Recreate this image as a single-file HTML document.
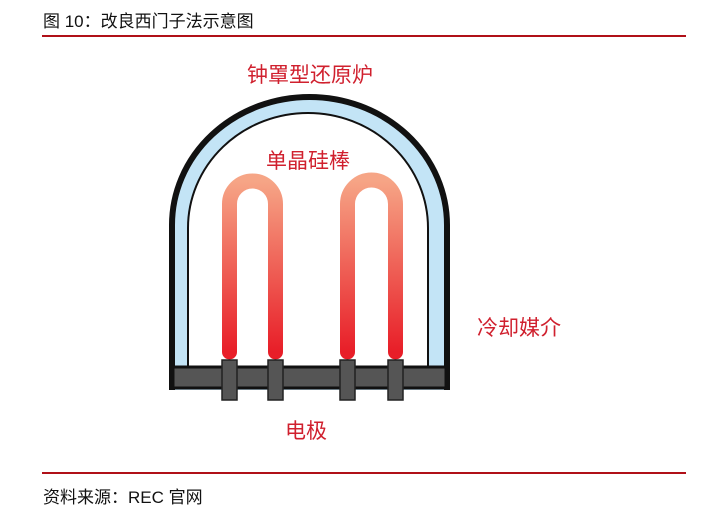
<!DOCTYPE html>
<html><head><meta charset="utf-8"><style>
body{margin:0;background:#fff;width:715px;height:517px;overflow:hidden;position:relative;font-family:"Liberation Sans","Noto Sans CJK SC",sans-serif}
.t{position:absolute;white-space:nowrap}
.r{color:#d0202e;font-size:21px}
</style></head><body>
<div class="t" style="left:43px;top:7px;font-size:17px;color:#111">图 10：改良西门子法示意图</div>
<div style="position:absolute;left:42px;top:35px;width:644px;height:2px;background:#b01018"></div>
<div style="position:absolute;left:42px;top:472px;width:644px;height:2px;background:#b01018"></div>
<div class="t" style="left:43px;top:483px;font-size:17px;color:#111">资料来源：REC 官网</div>
<svg width="715" height="517" style="position:absolute;left:0;top:0">
<defs><linearGradient id="g" x1="0" y1="0" x2="0" y2="1"><stop offset="0" stop-color="#f6a586"/><stop offset="1" stop-color="#e81e28"/></linearGradient></defs>
<path d="M172,390 V225 A137.5,128 0 0 1 447,225 V390" fill="#c3e4f6" stroke="#111" stroke-width="6"/>
<path d="M188,370 V228 A120,115 0 0 1 428,228 V370" fill="#fff" stroke="#111" stroke-width="2"/>
<path d="M229.5,352 V204 A23,23 0 0 1 275.5,204 V352" fill="none" stroke="url(#g)" stroke-width="15" stroke-linecap="round"/>
<path d="M347.5,352 V204 A23,23 0 0 1 395.5,204 V352" fill="none" stroke="url(#g)" stroke-width="15" stroke-linecap="round"/>
<rect x="173" y="367" width="273" height="21" fill="#555" stroke="#111" stroke-width="3"/>
<g fill="#555" stroke="#222" stroke-width="1.5">
<rect x="222" y="360" width="15" height="40"/><rect x="268" y="360" width="15" height="40"/>
<rect x="340" y="360" width="15" height="40"/><rect x="388" y="360" width="15" height="40"/>
</g>
</svg>
<div class="t r" style="left:247px;top:59px">钟罩型还原炉</div>
<div class="t r" style="left:266px;top:145px">单晶硅棒</div>
<div class="t r" style="left:477px;top:312px">冷却媒介</div>
<div class="t r" style="left:285px;top:415px">电极</div>
</body></html>
